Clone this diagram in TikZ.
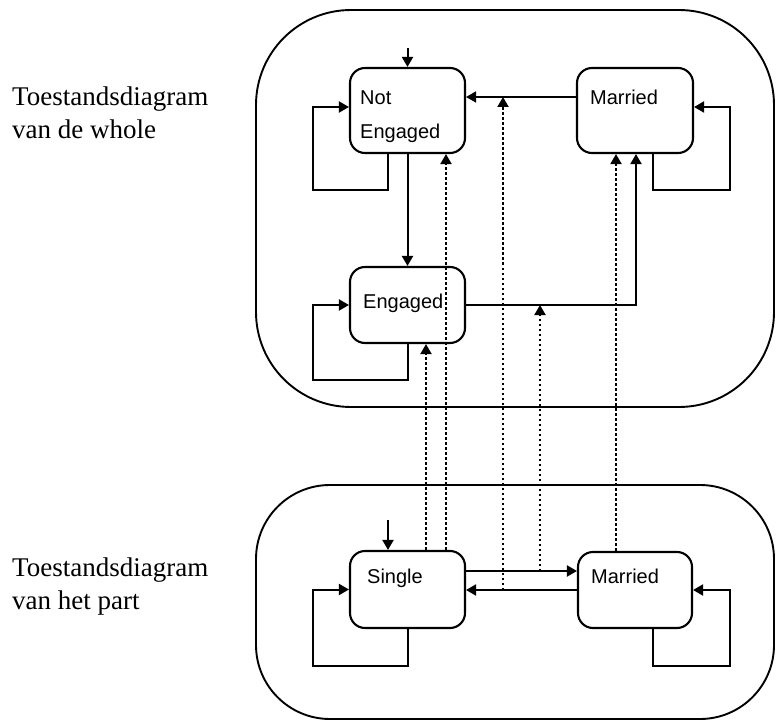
\documentclass[tikz,border=0pt]{standalone}
\usepackage{fontspec}
\setmainfont{Liberation Serif}
\newfontfamily\labelfont{Liberation Sans}
\usetikzlibrary{arrows.meta}
\begin{document}
\begin{tikzpicture}[x=1pt,y=-1pt,
  region/.style={draw, line width=1.9pt, inner sep=0pt},
  state/.style={draw, line width=2.1pt, rounded corners=15pt, inner sep=0pt},
  statetxt/.style={font=\labelfont\fontsize{20}{24}\selectfont, inner sep=0pt, anchor=base west},
  caption/.style={font=\fontsize{27}{33}\selectfont, inner sep=0pt, anchor=base west},
  trans/.style={line width=2pt, -{Triangle[length=10pt,width=11pt]}},
  link/.style={line width=2pt, dash pattern=on 2.5pt off 2.5pt, -{Triangle[length=10pt,width=11pt]}},
]
\useasboundingbox (0,0) rectangle (776,727);

% the two state diagrams
\node[region, rounded corners=95pt, minimum width=518pt, minimum height=397pt] (whole) at (515,208.5) {};
\node[region, rounded corners=74pt, minimum width=518pt, minimum height=234pt] (part) at (515,602) {};

% captions
\node[caption] (capwhole1) at (12,106) {Toestandsdiagram};
\node[caption] (capwhole2) at (12,139) {van de whole};
\node[caption] (cappart1) at (12,576) {Toestandsdiagram};
\node[caption] (cappart2) at (12,609) {van het part};

% states of the whole
\node[state, minimum width=115pt, minimum height=85pt] (NE) at (407.5,110.5) {};
\node[state, minimum width=116pt, minimum height=85pt] (M1) at (635,110.5) {};
\node[state, minimum width=115pt, minimum height=76pt] (E) at (407.5,305) {};
% states of the part
\node[state, minimum width=115pt, minimum height=77pt] (S) at (407.5,589.5) {};
\node[state, minimum width=114pt, minimum height=76pt] (M2) at (635,590) {};

\node[statetxt] (NEtxt1) at (360,105) {Not};
\node[statetxt] (NEtxt2) at (360,139) {Engaged};
\node[statetxt] (M1txt) at (590,105) {Married};
\node[statetxt] (Etxt) at (363,308) {Engaged};
\node[statetxt] (Stxt) at (367,583) {Single};
\node[statetxt] (M2txt) at (591,583) {Married};

% initial states
\coordinate (init1) at (407.5,48);
\coordinate (init2) at (388,520);
\draw[trans] (init1) -- (NE.north);
\draw[trans] (init2) -- ([xshift=-19.5pt]S.north);

% transitions of the whole
\draw[trans] ([xshift=-19.5pt]NE.south) |- (313,190) |- ([yshift=3.5pt]NE.west);
\draw[trans] (NE.south) -- (E.north);
\draw[trans] (E.south) |- (313,380) |- (E.west);
\draw[trans] (E.east) -| ([xshift=1pt]M1.south);
\draw[trans, line width=1.6pt] ([yshift=13.5pt]M1.west) -- ([yshift=13.5pt]NE.east);
\draw[trans] ([xshift=18pt]M1.south) |- (730,190) |- ([yshift=3.5pt]M1.east);

% transitions of the part
\draw[trans] (S.south) |- (313,666) |- (S.west);
\draw[trans] ([yshift=18.5pt]S.east) -- ([yshift=18.5pt]S.east -| M2.west);
\draw[trans] (M2.west) -- (M2.west -| S.east);
\draw[trans] ([xshift=18pt]M2.south) |- (730,666) |- (M2.east);

% points on the transitions where the links attach
\coordinate (onMNE) at (503,97);
\coordinate (onMS) at (503,590);
\coordinate (onEM) at (540,305);
\coordinate (onSM) at (540,571);

% links from the part to the whole
\draw[link] ([xshift=18.5pt]S.north) -- ([xshift=18.5pt]E.south);
\draw[link] ([xshift=38.5pt]S.north) -- ([xshift=38.5pt]NE.south);
\draw[link] (onMS) -- (onMNE);
\draw[link] (onSM) -- (onEM);
\draw[link] ([xshift=-19pt]M2.north) -- ([xshift=-19pt]M1.south);
\end{tikzpicture}
\end{document}
